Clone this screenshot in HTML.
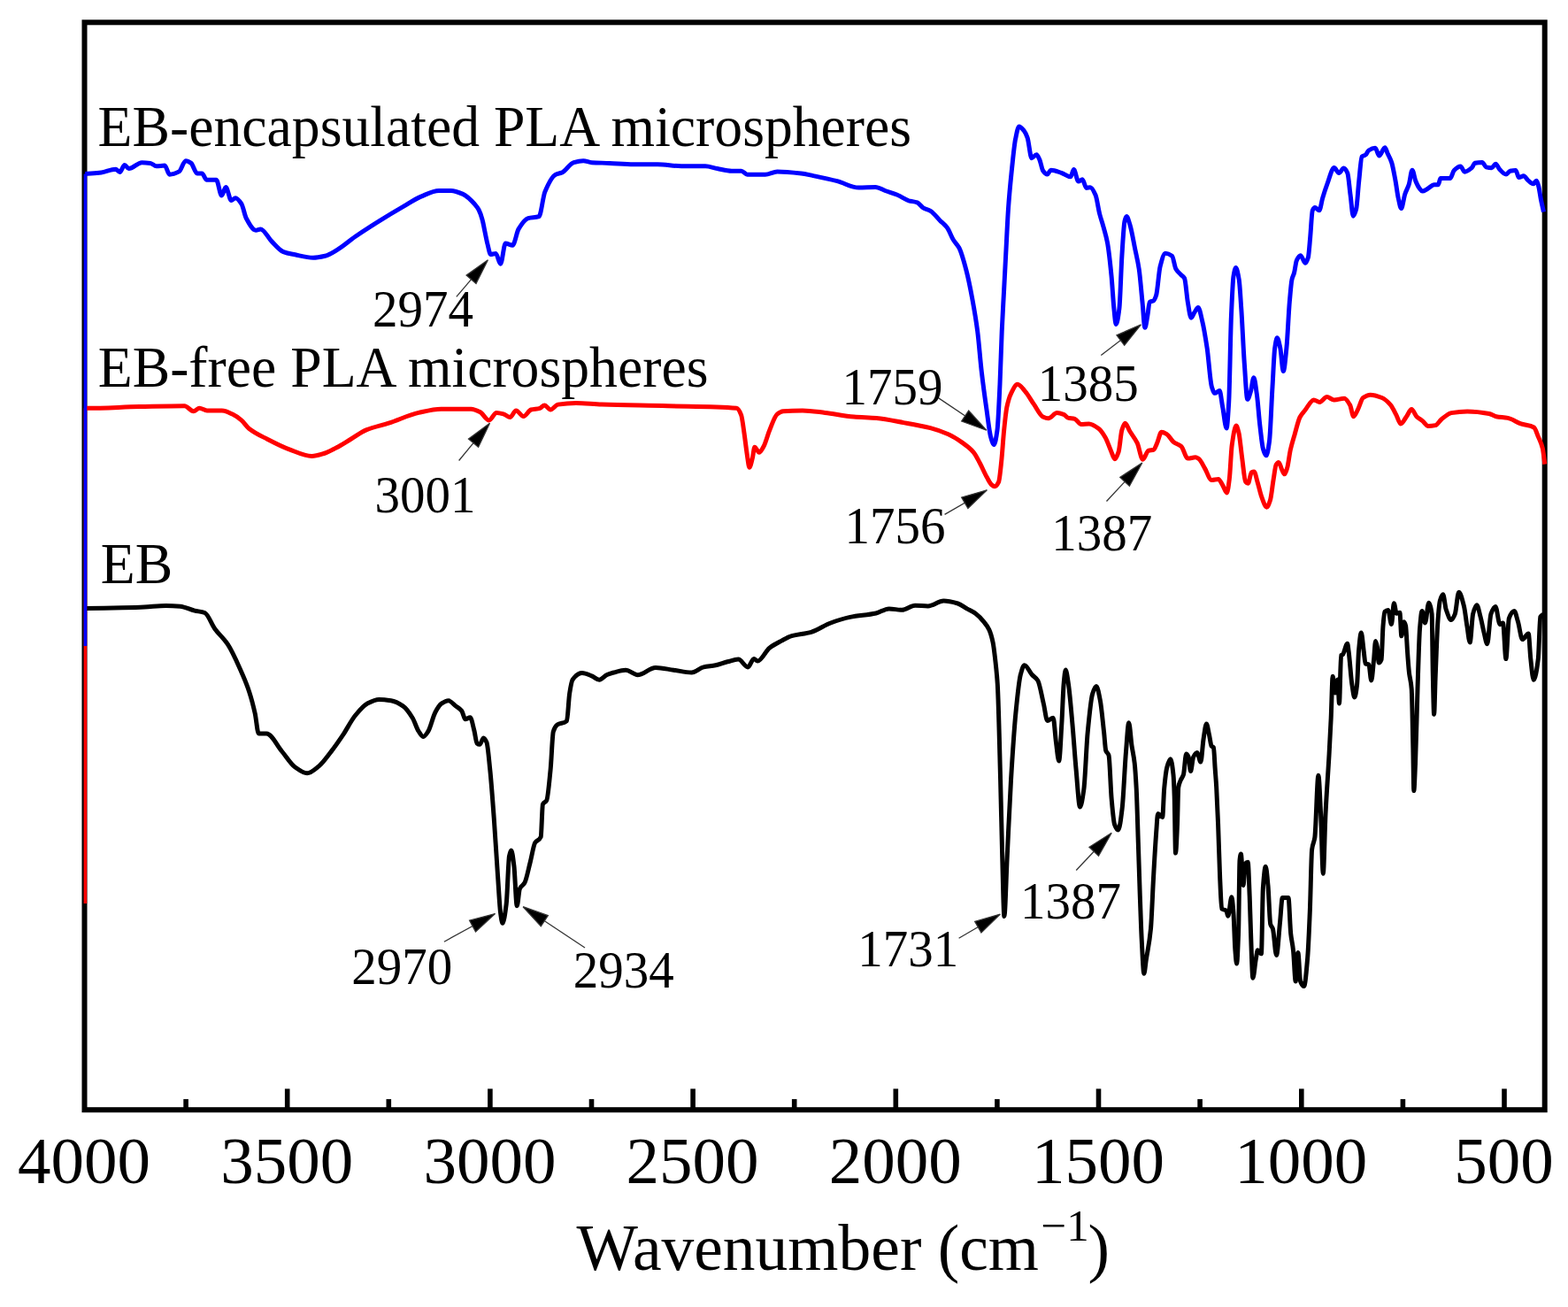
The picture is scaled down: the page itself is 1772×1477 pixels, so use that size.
<!DOCTYPE html>
<html><head><meta charset="utf-8"><title>FTIR spectra</title>
<style>html,body{margin:0;padding:0;background:#fff;}svg{display:block;}</style>
</head><body>
<svg width="1772" height="1477" viewBox="0 0 1772 1477"><rect width="1772" height="1477" fill="#fff"/><rect x="95.5" y="25.3" width="1650.2" height="1228.9" fill="none" stroke="#000" stroke-width="6"/><g stroke="#000" stroke-width="5.6"><line x1="210.1" y1="1242.1" x2="210.1" y2="1254"/><line x1="324.7" y1="1230.4" x2="324.7" y2="1254"/><line x1="439.3" y1="1242.1" x2="439.3" y2="1254"/><line x1="553.9" y1="1230.4" x2="553.9" y2="1254"/><line x1="668.5" y1="1242.1" x2="668.5" y2="1254"/><line x1="783.1" y1="1230.4" x2="783.1" y2="1254"/><line x1="897.7" y1="1242.1" x2="897.7" y2="1254"/><line x1="1012.3" y1="1230.4" x2="1012.3" y2="1254"/><line x1="1126.9" y1="1242.1" x2="1126.9" y2="1254"/><line x1="1241.5" y1="1230.4" x2="1241.5" y2="1254"/><line x1="1356.1" y1="1242.1" x2="1356.1" y2="1254"/><line x1="1470.8" y1="1230.4" x2="1470.8" y2="1254"/><line x1="1585.4" y1="1242.1" x2="1585.4" y2="1254"/><line x1="1700" y1="1230.4" x2="1700" y2="1254"/></g><path d="M96.2,687.6C110.4,687.3 124.5,687.1 138.7,686.8C146.8,686.6 155,686.4 163.1,686C171.2,685.6 179.4,684.4 187.5,684.4C192.9,684.4 198.3,684.7 203.7,685.2C209.1,685.7 214.6,688.8 220,690.1C223.8,691 227.6,691.1 231.4,692.5C235.2,693.9 238.9,705.2 242.7,710.4C247.6,717.2 252.5,720.8 257.4,728.2C262.3,735.6 267.1,746.6 272,757.5C275.2,764.8 278.5,772 281.7,781.9C283.9,788.5 286,796.4 288.2,806.2C289.6,812.4 290.9,829 292.3,829C295.3,829 298.2,829 301.2,829C307,829 312.7,842.2 318.5,849C323.5,854.9 328.5,863.5 333.5,867C338,870.2 342.6,873.8 347.1,873.8C351.6,873.8 356.1,869.2 360.6,865.6C365.1,862 369.7,855.2 374.2,849.4C378.7,843.6 383.2,837.1 387.7,830.4C392.2,823.6 396.8,814.4 401.3,808.8C405.8,803.3 410.3,797.5 414.8,795.2C419.3,792.9 423.9,790.5 428.4,790.5C432.9,790.5 437.4,791.1 441.9,791.8C446.4,792.5 450.9,794.9 455.4,797.9C459,800.4 462.7,805.6 466.3,811.5C468.6,815.2 470.8,823.1 473.1,826.4C474.9,829.1 476.7,832.5 478.5,832.5C480.3,832.5 482.1,829.2 483.9,826.4C486.6,822.2 489.3,809.6 492,804.7C494.3,800.6 496.5,796.7 498.8,795.2C501.5,793.4 504.2,791.8 506.9,791.8C509.6,791.8 512.3,795.8 515,797.9C517.3,799.7 519.5,800.5 521.8,803.3C523.2,805 524.5,812.8 525.9,812.8C527.7,812.8 529.5,810.8 531.3,810.8C532.9,810.8 534.4,819.9 536,826C537,829.9 538,839.2 539,840C540,840.8 541.1,841.3 542.1,841.3C543.6,841.3 545,834 546.5,834C547.7,834 548.8,836.2 550,839C551.3,842.1 552.5,857.6 553.8,870C555.3,884.3 556.7,904.2 558.2,924.1C559.6,943.5 561.1,968.7 562.5,989.1C563.6,1004.3 564.6,1025 565.7,1032.5C566.4,1037.6 567.2,1043.3 567.9,1043.3C569.3,1043.3 570.8,1032.9 572.2,1021.6C573.3,1012.9 574.4,972.8 575.5,967.5C576.2,964 577,961 577.7,961C578.8,961 579.8,970 580.9,978.3C582,986.8 583.1,1023.8 584.2,1023.8C585.3,1023.8 586.3,1006.6 587.4,1004.3C589.2,1000.5 591,1001 592.8,997.8C595,993.9 597.1,982.3 599.3,974C601.1,967.1 602.9,955.2 604.7,952.3C606.9,948.8 609,950.6 611.2,945.8C611.9,944.2 612.7,910.6 613.4,909C614.8,905.9 616.3,907.2 617.7,904.6C619.2,902 620.6,884.8 622.1,870C623.2,859.2 624.2,830.1 625.3,826.7C626.8,822 628.2,820.2 629.7,819.1C633.3,816.5 636.9,818.1 640.5,814.7C641.6,813.7 642.6,790 643.7,783.3C644.8,776.4 645.9,769.7 647,768.2C650.6,763.2 654.2,760.6 657.8,760.6C661.4,760.6 665,762.4 668.6,763.8C671.5,764.9 674.4,768.2 677.3,768.2C680.2,768.2 683.1,763.8 686,762.5C688.5,761.4 691,760.7 693.5,760C698,758.8 702.6,757.2 707.1,757.2C711.6,757.2 716.1,762.7 720.6,762.7C727.4,762.7 734.1,754.5 740.9,754.5C747.7,754.5 754.5,756.3 761.3,757.2C768.1,758.1 774.8,760 781.6,760C786.1,760 790.6,754.9 795.1,753.9C799.6,752.9 804.2,752.7 808.7,751.8C813.2,750.9 817.7,748.9 822.2,747.8C826.3,746.8 830.3,745.1 834.4,745.1C838,745.1 841.6,753.9 845.2,753.9C847.5,753.9 849.7,744.4 852,744.4C853.4,744.4 854.7,747.1 856.1,747.1C860.6,747.1 865.1,735.7 869.6,732.2C874.1,728.7 878.7,726.5 883.2,724.1C887,722.1 890.9,719.8 894.7,718.7C902,716.6 909.4,716.4 916.7,714.3C924,712.2 931.4,706.7 938.7,704C946,701.3 953.4,698.9 960.7,697.4C970.5,695.4 980.2,695.1 990,693C994.9,691.9 999.8,687.9 1004.7,687.9C1009.6,687.9 1014.5,689.3 1019.4,689.3C1024.3,689.3 1029.2,684.2 1034.1,684.2C1039,684.2 1043.8,684.9 1048.7,684.9C1054.6,684.9 1060.5,679.1 1066.4,679.1C1071.8,679.1 1077.1,680.5 1082.5,682C1085.9,683 1089.4,685.9 1092.8,687.9C1096.2,689.8 1099.6,691.2 1103,693.7C1105.9,695.9 1108.9,699 1111.8,702.6C1113.8,705 1115.7,707.3 1117.7,711.4C1119.2,714.5 1120.6,719 1122.1,726C1123.1,730.6 1124,739.3 1125,748C1125.8,754.9 1126.5,761 1127.3,773.3C1128.4,790.9 1129.5,841 1130.6,881.6C1131.3,907.4 1132,943.7 1132.7,968.3C1133.4,994.1 1134.2,1035.5 1134.9,1035.5C1136,1035.5 1137.1,990.6 1138.2,968.3C1139.6,939.3 1141.1,905.5 1142.5,881.6C1144.3,851.6 1146.1,824.2 1147.9,805.8C1149.7,787.4 1151.5,769.1 1153.3,762.5C1154.8,757.1 1156.2,751.7 1157.7,751.7C1160.6,751.7 1163.4,759.3 1166.3,762.5C1168.5,764.9 1170.6,765.5 1172.8,769C1175,772.5 1177.1,785.9 1179.3,795C1180.8,801.2 1182.2,814.5 1183.7,814.5C1185.9,814.5 1188,811.2 1190.2,811.2C1191.3,811.2 1192.3,830.4 1193.4,838.3C1194.5,846.4 1195.6,860 1196.7,860C1197.8,860 1198.8,834 1199.9,816.7C1200.6,804.8 1201.4,781.4 1202.1,773.3C1202.8,765.6 1203.5,757.1 1204.2,757.1C1205.3,757.1 1206.4,766.1 1207.5,773.3C1208.9,782.6 1210.4,800.8 1211.8,816.7C1213.3,833 1214.7,855 1216.2,870.8C1217.6,886.2 1219.1,912 1220.5,912C1221.9,912 1223.4,902.4 1224.8,892.5C1226.3,882.3 1227.7,842.9 1229.2,827.5C1231,808.6 1232.8,789.9 1234.6,784.2C1236,779.7 1237.5,775.5 1238.9,775.5C1240.3,775.5 1241.8,783.6 1243.2,790.7C1244.7,798 1246.1,814.1 1247.6,827.5C1248.3,833.9 1249,846 1249.7,848.1C1250.8,851.4 1251.9,850.2 1253,853.5C1254.1,856.7 1255.1,891.5 1256.2,903.3C1257.3,915.5 1258.4,928.6 1259.5,931.5C1260.9,935.3 1262.4,938 1263.8,938C1265.2,938 1266.7,925.7 1268.1,914.1C1269.6,902.3 1271,866.7 1272.5,849.2C1273.6,836.5 1274.6,816.7 1275.7,816.7C1276.8,816.7 1277.9,835.1 1279,842.7C1280.1,850.1 1281.1,853 1282.2,862.5C1282.9,868.4 1283.5,878.2 1284.2,890.9C1284.9,904.2 1285.6,931.1 1286.3,951.9C1287,971.7 1287.6,994.3 1288.3,1012.8C1289,1031.3 1289.6,1051.1 1290.3,1063.6C1291.1,1079.2 1292,1100.2 1292.8,1100.2C1293.7,1100.2 1294.5,1089.5 1295.4,1083.9C1297.1,1072.9 1298.8,1067.1 1300.5,1049.4C1301.5,1039 1302.5,1010.1 1303.5,992.5C1304.5,974.3 1305.6,955.2 1306.6,941.7C1307.3,933 1307.9,919.4 1308.6,919.4C1310.3,919.4 1312,923.4 1313.7,923.4C1314.4,923.4 1315,898.1 1315.7,890.9C1316.7,880.1 1317.7,871.3 1318.7,867.5C1320,862.4 1321.4,857.7 1322.7,857.7C1323.8,857.7 1324.9,865.2 1326,875.6C1326.4,879.4 1326.8,888.5 1327.2,900C1327.6,912.4 1328.1,964.1 1328.5,964.1C1329.2,964.1 1329.8,946.8 1330.5,931.6C1330.9,922.5 1331.3,892.6 1331.7,890C1332.5,884.7 1333.3,884.1 1334.1,882.1C1335.2,879.4 1336.3,879 1337.4,875.6C1338.5,872.3 1339.5,852.1 1340.6,852.1C1341.4,852.1 1342.3,853.5 1343.1,855.3C1343.9,857 1344.7,871.6 1345.5,871.6C1346.6,871.6 1347.6,857.4 1348.7,855.3C1350.1,852.6 1351.4,850.4 1352.8,850.4C1354.2,850.4 1355.5,861 1356.9,861C1358,861 1359,841.8 1360.1,835C1361.2,828 1362.3,817.9 1363.4,817.9C1364.5,817.9 1365.5,826.2 1366.6,830.9C1367.4,834.6 1368.3,842.1 1369.1,843.1C1369.9,844 1370.7,843.6 1371.5,844.7C1372,845.4 1372.6,860 1373.1,867.5C1373.6,875 1374.2,880.9 1374.7,890C1375.3,900.8 1376,915.8 1376.6,931.6C1377.3,949 1378,977.4 1378.7,992.5C1379.4,1006.9 1380,1026.4 1380.7,1027C1382.4,1028.6 1384.1,1027.7 1385.8,1029.1C1386.5,1029.6 1387.1,1035.2 1387.8,1035.2C1389.2,1035.2 1390.5,1013.8 1391.9,1013.8C1392.6,1013.8 1393.2,1022.9 1393.9,1031.1C1394.6,1039.3 1395.2,1065.5 1395.9,1073.8C1396.5,1080.9 1397,1089 1397.6,1089C1398.3,1089 1398.9,1072.1 1399.6,1053.4C1400.1,1040.3 1400.5,976.6 1401,972.2C1401.5,967.8 1401.9,965.1 1402.4,965.1C1403.3,965.1 1404.2,1000.6 1405.1,1000.6C1405.8,1000.6 1406.4,977.2 1407.1,976.3C1408.1,974.9 1409.2,974.2 1410.2,974.2C1410.9,974.2 1411.5,997 1412.2,1012.8C1412.9,1028.6 1413.5,1058 1414.2,1073.8C1414.7,1086.4 1415.3,1105.2 1415.8,1105.2C1417,1105.2 1418.1,1090.3 1419.3,1083.9C1420,1080.3 1420.6,1073.8 1421.3,1073.8C1422.7,1073.8 1424,1077.8 1425.4,1077.8C1426.1,1077.8 1426.7,1012 1427.4,1002.7C1428.4,989.3 1429.3,979.2 1430.3,979.2C1431.2,979.2 1432.1,991.2 1433,1000.8C1433.9,1010.4 1434.8,1041 1435.7,1044.2C1436.6,1047.4 1437.5,1046.9 1438.4,1049.6C1439.8,1053.7 1441.1,1079.4 1442.5,1079.4C1443.9,1079.4 1445.2,1054.6 1446.6,1041.4C1447.5,1032.7 1448.4,1014.4 1449.3,1014.4C1450.6,1014.4 1452,1014.4 1453.3,1014.4C1454.2,1014.4 1455.1,1014.4 1456,1014.4C1456.9,1014.4 1457.8,1046.6 1458.7,1055C1459.6,1063.7 1460.6,1065.6 1461.5,1073.9C1462.4,1081.9 1463.3,1109.1 1464.2,1109.1C1465.1,1109.1 1466,1076.6 1466.9,1076.6C1467.8,1076.6 1468.7,1106.8 1469.6,1109.1C1470.9,1112.6 1472.3,1114.6 1473.6,1114.6C1475,1114.6 1476.3,1098.1 1477.7,1082.1C1478.6,1071.6 1479.5,1049.9 1480.4,1027.9C1481.1,1010 1481.9,965.9 1482.6,960.2C1483.7,951.9 1484.7,953.8 1485.8,946.7C1487.2,937.7 1488.5,876.2 1489.9,876.2C1490.8,876.2 1491.7,902 1492.6,919.6C1493.5,937.2 1494.4,987.3 1495.3,987.3C1496.2,987.3 1497.1,937.8 1498,919.6C1499.4,892 1500.7,876.5 1502.1,851.9C1502.8,839.3 1503.5,826.4 1504.2,811.2C1504.8,797.4 1505.5,764.3 1506.1,764.3C1507.1,764.3 1508,783 1509,783C1509.9,783 1510.9,768.1 1511.8,768.1C1512.4,768.1 1512.9,795 1513.5,795C1514.2,795 1514.9,741.3 1515.6,740.6C1516.2,740 1516.9,740.1 1517.5,739.6C1519.2,738.2 1521,727.3 1522.7,727.3C1523.2,727.3 1523.6,732.4 1524.1,735.8C1525.4,745 1526.6,765.5 1527.9,773.7C1528.9,780 1529.8,788 1530.8,788C1531.7,788 1532.7,781.6 1533.6,773.7C1534.2,768.3 1534.9,742.9 1535.5,735.8C1536.4,725.4 1537.4,715 1538.3,715C1539.3,715 1540.2,728.7 1541.2,735.8C1541.8,740.4 1542.5,749.6 1543.1,750C1544.4,750.7 1545.6,750.3 1546.9,751C1547.8,751.5 1548.8,769 1549.7,769C1550.7,769 1551.6,754.4 1552.6,745.3C1553.2,739.3 1553.9,724.5 1554.5,724.5C1555.1,724.5 1555.8,727.8 1556.4,731.1C1557,734.2 1557.6,749.1 1558.2,749.1C1559.2,749.1 1560.1,747.8 1561.1,745.3C1561.7,743.6 1562.4,714.9 1563,707.4C1563.6,699.9 1564.3,692 1564.9,691.3C1566.2,690 1567.4,689.4 1568.7,689.4C1570,689.4 1571.2,705.5 1572.5,705.5C1573.4,705.5 1574.4,681.8 1575.3,681.8C1576.3,681.8 1577.2,693.2 1578.2,693.2C1579.4,693.2 1580.7,692.2 1581.9,692.2C1582.5,692.2 1583.2,718.8 1583.8,718.8C1584.8,718.8 1585.7,702.7 1586.7,702.7C1587.3,702.7 1588,704.7 1588.6,707.4C1589.2,710.1 1589.9,727.2 1590.5,735.8C1591.1,744.4 1591.8,753.8 1592.4,759.5C1593.3,767.9 1594.3,767 1595.2,778.5C1595.8,785.5 1596.3,820.1 1596.9,846.2C1597.2,860 1597.5,893.6 1597.8,893.6C1598.4,893.6 1598.9,876.1 1599.5,863.1C1600.3,843.9 1601.2,803.6 1602,778.5C1602.8,753.4 1603.7,720.9 1604.5,710.8C1605.4,700.3 1606.2,690.5 1607.1,690.5C1608.2,690.5 1609.4,704 1610.5,704C1611.9,704 1613.3,681.2 1614.7,681.2C1615.8,681.2 1617,684.7 1618.1,693.9C1618.5,697.2 1618.9,744.2 1619.3,761.6C1619.7,780.4 1620.2,807.3 1620.6,807.3C1621.2,807.3 1621.7,775.7 1622.3,761.6C1623.2,740.1 1624,713.9 1624.9,702.3C1625.7,691.2 1626.6,681.4 1627.4,678.6C1628.5,674.7 1629.7,671.8 1630.8,671.8C1631.9,671.8 1633.1,685.4 1634.2,688.8C1636.2,694.6 1638.1,700.6 1640.1,700.6C1641.5,700.6 1642.9,697.4 1644.3,693.9C1645.7,690.3 1647.2,669.3 1648.6,669.3C1650.6,669.3 1652.5,677.6 1654.5,685.4C1655.6,689.9 1656.8,700.6 1657.9,707.4C1659,714 1660.1,726 1661.2,726C1662.3,726 1663.5,698.3 1664.6,693.9C1666,688.3 1667.5,683.7 1668.9,683.7C1670.3,683.7 1671.7,692 1673.1,697.2C1674.5,702.4 1675.9,710.5 1677.3,715.9C1678.4,720.3 1679.6,727.7 1680.7,727.7C1682.1,727.7 1683.5,697.8 1684.9,693.9C1686.6,689.1 1688.3,685.4 1690,685.4C1691.7,685.4 1693.4,705.7 1695.1,705.7C1696.2,705.7 1697.4,704 1698.5,704C1699.6,704 1700.8,744.6 1701.9,744.6C1703,744.6 1704.2,702 1705.3,698.9C1707.3,693.4 1709.2,690.5 1711.2,690.5C1712.6,690.5 1714,697.7 1715.4,702.3C1717.1,707.9 1718.8,722.6 1720.5,722.6C1722.8,722.6 1725,715.9 1727.3,715.9C1728.1,715.9 1729,737.3 1729.8,744.6C1730.9,754.6 1732.1,768.3 1733.2,768.3C1734.9,768.3 1736.6,758.2 1738.3,744.6C1739.1,737.9 1740,698.8 1740.8,697.2C1741.9,695 1743.1,695 1744.2,693.9" fill="none" stroke="#000" stroke-width="5.0" stroke-linejoin="round" stroke-linecap="butt"/><path d="M96.2,461.3C97,461.3 97.7,461.3 98.5,461.3C118.2,461.3 138,460 157.7,459.6C174.6,459.3 191.6,458.8 208.5,458.8C211.9,458.8 215.3,464.7 218.7,464.7C220.9,464.7 223.2,461.3 225.4,461.3C228.2,461.3 231.1,463.9 233.9,463.9C239.5,463.9 245.2,463.9 250.8,463.9C254.8,463.9 258.7,466.2 262.7,468.1C266.1,469.7 269.4,472.1 272.8,474.9C275.6,477.3 278.5,482 281.3,484.2C288.1,489.6 294.8,492.5 301.6,496C310.1,500.4 318.5,504.8 327,507.9C335.5,511 343.9,515.5 352.4,515.5C356.9,515.5 361.5,513.9 366,512.5C370.7,511.1 375.3,508.4 380,506C385.6,503.1 391.3,499.3 396.9,496C402.6,492.6 408.2,488.2 413.9,485.9C422.4,482.4 430.8,480.9 439.3,478.2C450.6,474.6 461.8,468.9 473.1,466.4C481.6,464.5 490,462.2 498.5,462.2C509.8,462.2 521.1,462.2 532.4,462.2C535.8,462.2 539.1,463.9 542.5,465.6C545.9,467.3 549.3,474.9 552.7,474.9C555.5,474.9 558.3,466.4 561.1,466.4C563.9,466.4 566.8,467.3 569.6,468.1C571.9,468.8 574.1,471.5 576.4,471.5C578.7,471.5 580.9,463.9 583.2,463.9C586,463.9 588.8,470.6 591.6,470.6C594.4,470.6 597.3,463.8 600.1,463C603.5,462 606.8,462.3 610.2,461.3C611.9,460.8 613.6,457.9 615.3,457.9C617.6,457.9 619.8,463 622.1,463C624.9,463 627.8,457.6 630.6,457.1C637.4,456 644.1,455.4 650.9,455.4C660.6,455.4 670.3,456.8 680,457.1C704.9,458 729.7,458.1 754.6,458.8C780.6,459.5 806.5,459 832.5,461.3C834.2,461.4 835.9,464.7 837.6,468.9C838.7,471.7 839.9,481.8 841,489.3C842.1,496.8 843.3,507.5 844.4,514.6C845.2,519.8 846.1,528.2 846.9,528.2C848,528.2 849.2,522.3 850.3,518C851.1,514.8 852,505.3 852.8,505.3C854.5,505.3 856.2,511.3 857.9,511.3C859.6,511.3 861.3,507.5 863,504.5C865.3,500.5 867.5,491.3 869.8,485.9C872.6,479.2 875.4,470.3 878.2,468.1C880.5,466.3 882.7,464.9 885,464.7C892.3,464.1 899.7,463.9 907,463.9C915.5,463.9 923.9,465.4 932.4,466.4C943.3,467.7 954.1,470.1 965,471C973.5,471.7 982,471.8 990.5,472.5C1000.7,473.4 1010.8,475.7 1021,477.6C1031.1,479.4 1041.3,481.1 1051.4,483.7C1058.2,485.5 1064.9,487.8 1071.7,490.8C1076.8,493.1 1081.9,496.3 1087,499.9C1091.4,503 1095.8,505.9 1100.2,511.1C1102.6,513.9 1104.9,518.9 1107.3,523.3C1110,528.3 1112.7,534.8 1115.4,539.6C1117.1,542.6 1118.8,546.3 1120.5,547.7C1121.7,548.7 1122.9,549.7 1124.1,549.7C1125.6,549.7 1127.1,547.7 1128.6,544.6C1129.6,542.5 1130.7,530.8 1131.7,521.3C1132.7,512.1 1133.7,495.4 1134.7,485.7C1135.7,475.7 1136.8,465.3 1137.8,460.3C1139.4,452.7 1140.9,448 1142.5,444.8C1145,439.8 1147.4,434.3 1149.9,434.3C1152.8,434.3 1155.7,439 1158.6,442.3C1161.9,446.1 1165.3,452.4 1168.6,457.2C1171.9,461.9 1175.2,469.3 1178.5,470.9C1180.6,471.9 1182.6,472.8 1184.7,472.8C1188,472.8 1191.3,466.6 1194.6,466.6C1197.1,466.6 1199.6,467.5 1202.1,468.4C1203.7,469 1205.4,471.6 1207,472.1C1209.5,472.8 1212,472.7 1214.5,473.4C1217,474.1 1219.4,479.6 1221.9,479.6C1224.8,479.6 1227.7,479 1230.6,479C1234.3,479 1238.1,481.8 1241.8,484.6C1244.3,486.5 1246.7,490.3 1249.2,494.5C1251.3,498.1 1253.4,504.7 1255.5,509.4C1256.9,512.6 1258.4,518.7 1259.8,518.7C1261.2,518.7 1262.7,514.8 1264.1,510.6C1265.4,506.9 1266.6,489.7 1267.9,485.8C1269.1,482 1270.4,478.3 1271.6,478.3C1273.3,478.3 1274.9,484.2 1276.6,487C1279.5,491.8 1282.3,494.7 1285.2,500.7C1287.3,505.1 1289.4,519.3 1291.5,519.3C1293.6,519.3 1295.6,510.2 1297.7,509.4C1299.8,508.6 1301.8,508.9 1303.9,508.1C1305.1,507.6 1306.4,503.4 1307.6,500.7C1309.3,497 1310.9,488.3 1312.6,488.3C1314.7,488.3 1316.7,489.6 1318.8,490.8C1321.3,492.3 1323.7,497.6 1326.2,499.5C1329.1,501.7 1332,501.9 1334.9,504.4C1337.4,506.6 1339.9,518.1 1342.4,518.1C1345.3,518.1 1348.1,516.8 1351,516.8C1352.3,516.8 1353.5,517.7 1354.8,518.5C1357,520 1359.3,525.4 1361.5,529.1C1364.1,533.3 1366.6,542.5 1369.2,542.5C1371.8,542.5 1374.3,541.5 1376.9,541.5C1378.5,541.5 1380.1,545.8 1381.7,548.3C1383.3,550.8 1384.9,556.9 1386.5,556.9C1387.4,556.9 1388.4,548.7 1389.3,541.5C1390.3,534 1391.2,510.1 1392.2,503.2C1393.8,491.8 1395.4,481.1 1397,481.1C1398,481.1 1398.9,485.1 1399.9,488.8C1401.2,493.7 1402.4,508.5 1403.7,517.6C1405,527 1406.3,542.9 1407.6,544.4C1408.5,545.5 1409.5,546.3 1410.4,546.3C1411.7,546.3 1413,534.7 1414.3,533.9C1415.3,533.3 1416.2,532.9 1417.2,532.9C1418.5,532.9 1419.7,540.2 1421,544.4C1422.6,549.6 1424.2,557.5 1425.8,561.7C1427.7,566.7 1429.6,573.2 1431.5,573.2C1432.8,573.2 1434.1,569.4 1435.4,565.5C1436.7,561.7 1437.9,549 1439.2,541.5C1440.2,535.8 1441.1,526.8 1442.1,525.2C1443.1,523.6 1444,522.4 1445,522.4C1446.3,522.4 1447.5,528.6 1448.8,531C1449.8,532.8 1450.7,535.8 1451.7,535.8C1452.7,535.8 1453.6,532.2 1454.6,529.1C1455.9,525 1457.1,513.6 1458.4,508C1460,500.9 1461.6,496.2 1463.2,490.7C1465.1,484 1467.1,475.2 1469,471.5C1470.9,467.9 1472.8,466.2 1474.7,463.8C1478,459.6 1481.4,451.9 1484.7,451.9C1486.9,451.9 1489.1,454.4 1491.3,454.4C1494,454.4 1496.8,448.6 1499.5,448.6C1502.2,448.6 1504.9,451.9 1507.6,451.9C1511.4,451.9 1515.3,450.3 1519.1,450.3C1521.3,450.3 1523.4,453.9 1525.6,457.6C1527,460 1528.3,470.7 1529.7,470.7C1531.3,470.7 1533,465.7 1534.6,462.6C1536.5,458.9 1538.5,450.9 1540.4,449.5C1543.1,447.6 1545.9,446.2 1548.6,446.2C1553,446.2 1557.3,447.8 1561.7,449.5C1565,450.8 1568.2,453.8 1571.5,457.6C1573.7,460.1 1575.8,465 1578,469.1C1579.6,472.2 1581.3,478.9 1582.9,478.9C1585.1,478.9 1587.3,473.6 1589.5,470.7C1591.4,468.2 1593.3,462.6 1595.2,462.6C1597.1,462.6 1599,468.8 1600.9,470.7C1603.1,472.9 1605.3,473.8 1607.5,475.6C1609.7,477.4 1611.8,481.4 1614,481.4C1616.7,481.4 1619.5,481.1 1622.2,480.6C1624.4,480.2 1626.6,475.8 1628.8,474C1632.6,471 1636.4,467.2 1640.2,466.6C1646.2,465.6 1652.2,465 1658.2,465C1666.4,465 1674.6,466 1682.8,467.5C1685.5,468 1688.2,470.2 1690.9,470.7C1695.3,471.6 1699.6,471.5 1704,472.4C1708.9,473.4 1713.9,477.2 1718.8,478.9C1723.7,480.6 1728.6,480.2 1733.5,483C1735.1,483.9 1736.8,489.7 1738.4,493.6C1740,497.5 1741.7,500 1743.3,506.7C1744.1,510.1 1745,518.7 1745.8,524.7" fill="none" stroke="#f00" stroke-width="5.0" stroke-linejoin="round" stroke-linecap="butt"/><line x1="96.4" y1="1021" x2="96.4" y2="461.3" stroke="#f00" stroke-width="3.6"/><line x1="96.4" y1="730" x2="96.4" y2="196.6" stroke="#00f" stroke-width="3.6"/><path d="M96.2,196.6C102.3,196 108.3,195.7 114.4,194.9C119.8,194.2 125.2,191.2 130.6,191.2C132.2,191.2 133.8,194.5 135.4,194.5C137.2,194.5 139,186.4 140.8,186.4C142.4,186.4 143.9,190.5 145.5,190.5C150.5,190.5 155.4,183.7 160.4,183.7C163.6,183.7 166.7,184 169.9,184.4C172.2,184.7 174.4,187.8 176.7,187.8C179.9,187.8 183,187.1 186.2,187.1C188,187.1 189.8,197.2 191.6,197.2C195.2,197.2 198.8,195.8 202.4,193.9C204.9,192.6 207.4,181.7 209.9,181.7C211.9,181.7 214,183 216,184.4C218.2,186 220.5,195.9 222.7,195.9C224.5,195.9 226.4,195.9 228.2,195.9C230,195.9 231.8,203.3 233.6,203.3C237.2,203.3 240.8,203.3 244.4,203.3C246.4,203.3 248.5,221 250.5,221C252.1,221 253.6,211.5 255.2,211.5C257.2,211.5 259.3,226.4 261.3,226.4C262.9,226.4 264.5,223.7 266.1,223.7C268.4,223.7 270.6,227 272.9,230.4C274.7,233.1 276.5,243.4 278.3,246.7C281.9,253.4 285.5,260.2 289.1,260.2C290.9,260.2 292.7,258.9 294.5,258.9C298.6,258.9 302.6,268.4 306.7,272.4C311.2,276.9 315.8,282.9 320.3,284.6C324.7,286.3 329.1,286.9 333.5,287.8C340.3,289.2 347.1,291.2 353.9,291.2C358.4,291.2 362.9,290.2 367.4,289.2C371.9,288.2 376.5,285.1 381,282.4C387.8,278.4 394.5,272.2 401.3,267.5C410.3,261.3 419.4,255.5 428.4,249.9C437.4,244.3 446.4,238.9 455.4,233.7C462.2,229.7 469,224.9 475.8,222.1C482.6,219.3 489.3,215.4 496.1,215.4C500.6,215.4 505.1,215.4 509.6,215.4C514.1,215.4 518.7,217.4 523.2,219.4C527.7,221.4 532.2,226 536.7,231C538.1,232.6 539.6,234.3 541,237C542.3,239.5 543.7,243.3 545,248C546,251.5 547,257.3 548,262C549,266.7 550,272.1 551,276C552.2,280.5 553.3,287.5 554.5,287.5C556.4,287.5 558.4,286.6 560.3,286.6C562.1,286.6 563.9,298.2 565.7,298.2C567.5,298.2 569.4,275.1 571.2,275.1C573.9,275.1 576.6,277.2 579.3,277.2C581.5,277.2 583.8,262.6 586,258.9C589.6,252.9 593.3,247.8 596.9,246.7C601,245.5 605,246.1 609.1,244.7C611.3,243.9 613.6,222.3 615.8,216.9C619.9,207 623.9,199.1 628,197.2C630.3,196.1 632.5,196.1 634.8,195.2C639.3,193.3 643.9,185 648.4,183.7C652,182.6 655.6,181.7 659.2,181.7C662.4,181.7 665.5,183.5 668.7,183.7C675.5,184.1 682.2,184.1 689,184.4C698,184.8 707.1,185.7 716.1,185.7C725.1,185.7 734.2,185.7 743.2,185.7C752.1,185.7 761.1,187.8 770,187.8C779,187.8 788.1,187.8 797.1,187.8C801.6,187.8 806.1,189.7 810.6,190.5C816,191.5 821.5,193.2 826.9,193.2C830.5,193.2 834.1,193.2 837.7,193.2C840,193.2 842.2,197.2 844.5,197.2C851.3,197.2 858,197.2 864.8,197.2C869.3,197.2 873.9,193.9 878.4,193.9C887.4,193.9 896.4,194.9 905.4,195.9C909.9,196.4 914.5,197.7 919,198.6C928,200.5 937.1,202.4 946.1,204.7C954.2,206.8 962.4,212.1 970.5,212.1C976.8,212.1 983.1,211.5 989.4,211.5C993,211.5 996.7,214.2 1000.3,215.5C1004.7,217.1 1009.1,218.2 1013.5,220C1018,221.8 1022.6,225.4 1027.1,226.8C1030.3,227.7 1033.4,227.7 1036.6,228.9C1038.8,229.7 1041.1,233.6 1043.3,234.9C1046,236.5 1048.8,236.7 1051.5,238.3C1055.1,240.4 1058.7,245.6 1062.3,249.2C1065,251.9 1067.7,253.7 1070.4,257.3C1072.7,260.3 1074.9,267.1 1077.2,270.8C1079.5,274.5 1081.7,276 1084,280.3C1086.7,285.5 1089.4,295.7 1092.1,306C1094.3,314.4 1096.5,325.4 1098.7,337.2C1100.7,348 1102.7,359 1104.7,374.5C1106.2,386.1 1107.7,406.2 1109.2,419.2C1111.2,436.2 1113.1,450 1115.1,463.8C1116.6,474.4 1118.1,488.3 1119.6,493.6C1120.8,497.9 1122.1,502.6 1123.3,502.6C1124.5,502.6 1125.8,495.1 1127,486.2C1128,479 1129,455.4 1130,434C1130.7,418.3 1131.5,391.1 1132.2,374.5C1133,357.1 1133.7,344.6 1134.5,329.8C1135.3,315 1136,300.2 1136.8,285.7C1137.7,268.7 1138.6,248.4 1139.5,235.6C1140.8,216.7 1142.2,203.6 1143.5,190.9C1144.9,177.9 1146.2,163.8 1147.6,157.1C1149,150.4 1150.3,142.9 1151.7,142.9C1153.5,142.9 1155.3,145.4 1157.1,147.6C1158.4,149.3 1159.8,152 1161.1,155.7C1162.7,160.2 1164.3,178.7 1165.9,178.7C1167.7,178.7 1169.5,174.7 1171.3,174.7C1172.4,174.7 1173.6,177.7 1174.7,180.1C1176,182.9 1177.4,191.2 1178.7,193C1180.3,195.2 1181.9,197 1183.5,197C1184.8,197 1186.2,192.3 1187.5,192.3C1191.5,192.3 1195.4,194 1199.4,195.3C1202.9,196.4 1206.3,199.8 1209.8,199.8C1211,199.8 1212.3,191.6 1213.5,191.6C1215.2,191.6 1217,205 1218.7,205C1220.2,205 1221.7,202.8 1223.2,202.8C1224.7,202.8 1226.2,212.4 1227.7,212.4C1229.2,212.4 1230.6,211.7 1232.1,211.7C1234.1,211.7 1236.1,216 1238.1,220.6C1239.6,224.1 1241.1,235.6 1242.6,241.5C1244.1,247.2 1245.5,251 1247,256.4C1248.5,261.9 1250,266.2 1251.5,274.3C1253,282.4 1254.5,296.2 1256,311.5C1257,321.4 1257.9,339.4 1258.9,348.7C1259.7,356.1 1260.4,366.6 1261.2,366.6C1262.4,366.6 1263.7,358.5 1264.9,348.7C1265.9,340.8 1266.9,304.9 1267.9,289.2C1268.9,273.5 1269.9,254.7 1270.9,250.4C1271.6,247.2 1272.4,244.5 1273.1,244.5C1274.3,244.5 1275.6,249.6 1276.8,253.4C1278.8,259.6 1280.8,271.9 1282.8,281.7C1284.3,288.9 1285.7,294.1 1287.2,304C1288.5,312.5 1289.7,328.7 1291,341.3C1292,350.9 1292.9,370.3 1293.9,370.3C1294.9,370.3 1295.9,361.7 1296.9,356.2C1297.7,352 1298.4,341.8 1299.2,341.3C1300.7,340.3 1302.1,340.7 1303.6,339.8C1304.6,339.2 1305.6,336.8 1306.6,333.8C1308.1,329.3 1309.6,306.8 1311.1,301.1C1313.1,293.6 1315,286.2 1317,286.2C1319.5,286.2 1322,287.3 1324.5,289.2C1326,290.3 1327.4,301.5 1328.9,304C1330.9,307.4 1332.9,308.6 1334.9,310.7C1336.1,312 1337.4,312.3 1338.6,314.5C1339.8,316.7 1341.1,334.3 1342.3,341.3C1343.6,348.5 1344.8,359.2 1346.1,359.2C1347.3,359.2 1348.6,355 1349.8,353.2C1351.2,351.1 1352.6,347.5 1354,347.5C1355.6,347.5 1357.2,356.7 1358.8,363.3C1360.6,370.6 1362.3,381.3 1364.1,393.2C1365.9,405.1 1367.6,431.7 1369.4,437.2C1370.6,440.9 1371.7,444.3 1372.9,444.3C1374.7,444.3 1376.4,441.6 1378.2,441.6C1379.4,441.6 1380.5,453.9 1381.7,460.1C1383.2,467.9 1384.6,483.9 1386.1,483.9C1387,483.9 1387.8,469.5 1388.7,454.8C1389.6,439.5 1390.5,379.2 1391.4,358C1392.3,337.6 1393.1,317.5 1394,312.2C1394.9,306.9 1395.7,302.6 1396.6,302.6C1397.8,302.6 1399,308.7 1400.2,315.8C1401.1,320.9 1401.9,336.4 1402.8,349.2C1404,366.4 1405.1,394.5 1406.3,410.8C1407.5,427.1 1408.6,451.3 1409.8,451.3C1411,451.3 1412.2,446.3 1413.4,442.5C1414.6,438.8 1415.7,426.7 1416.9,426.7C1418.1,426.7 1419.2,437.7 1420.4,446C1421.6,454.3 1422.7,471.3 1423.9,481.2C1425.1,491.4 1426.3,503.8 1427.5,507.6C1428.7,511.3 1429.8,514.7 1431,514.7C1432.2,514.7 1433.3,507.2 1434.5,498.8C1435.7,490.4 1436.8,456.9 1438,437.2C1438.9,422 1439.8,399.4 1440.7,393.2C1441.6,387.2 1442.4,381.8 1443.3,381.8C1444.5,381.8 1445.6,387.9 1446.8,393.2C1448,398.5 1449.1,419.6 1450.3,419.6C1451.5,419.6 1452.7,405.1 1453.9,393.2C1455.1,381.7 1456.2,353.8 1457.4,340.4C1458.3,330.4 1459.1,319.7 1460,315.8C1460.8,312.1 1461.7,311.5 1462.5,308.5C1463.5,305 1464.4,296.1 1465.4,294.1C1466.8,291.1 1468.3,288.7 1469.7,288.7C1471.5,288.7 1473.4,297.3 1475.2,297.3C1476.3,297.3 1477.3,294.5 1478.4,290.8C1479.1,288.2 1479.9,277 1480.6,269.2C1481.5,259.6 1482.4,239.6 1483.3,237.7C1484.2,235.8 1485.1,234.5 1486,234.5C1487.6,234.5 1489.3,237.7 1490.9,237.7C1492.2,237.7 1493.4,227.9 1494.7,223.7C1496.5,217.7 1498.3,212.2 1500.1,207.4C1502.6,200.6 1505.2,189.5 1507.7,189.5C1509.5,189.5 1511.3,195.5 1513.1,195.5C1514.9,195.5 1516.7,190.1 1518.5,190.1C1519.9,190.1 1521.4,192.3 1522.8,195.5C1523.9,197.9 1525,212.2 1526.1,220.4C1527.2,228.4 1528.2,244.2 1529.3,244.2C1530.4,244.2 1531.5,240.8 1532.6,236.7C1533.7,232.7 1534.7,213.9 1535.8,204.2C1536.9,194.2 1538,178.2 1539.1,177.1C1540.5,175.7 1542,176 1543.4,174.9C1544.5,174 1545.6,170.7 1546.7,170C1549.2,168.4 1551.7,167.3 1554.2,167.3C1555.7,167.3 1557.1,176 1558.6,176C1560.8,176 1562.9,166.8 1565.1,166.8C1566.2,166.8 1567.2,171.4 1568.3,173.8C1569.8,177 1571.2,179.1 1572.7,183.6C1574.1,188 1575.6,196.5 1577,204.2C1578.1,210 1579.1,218.9 1580.2,223.7C1581.3,228.7 1582.4,235.6 1583.5,235.6C1584.9,235.6 1586.4,223.6 1587.8,219.3C1589.3,214.9 1590.7,213.1 1592.2,208.5C1593.5,204.5 1594.7,192.2 1596,192.2C1597.2,192.2 1598.5,201.2 1599.7,204.2C1601.2,207.8 1602.6,210.9 1604.1,212.8C1605.2,214.2 1606.2,216.1 1607.3,216.1C1609.4,216.1 1611.4,214.3 1613.5,213.2C1615.9,211.9 1618.4,208.7 1620.8,208.7C1622.3,208.7 1623.8,208.7 1625.3,208.7C1626.2,208.7 1627.1,201.5 1628,201.5C1631.6,201.5 1635.2,201.5 1638.8,201.5C1640.3,201.5 1641.8,193.9 1643.3,192.4C1645.7,190 1648.2,187.9 1650.6,187.9C1652.1,187.9 1653.6,194.2 1655.1,194.2C1657.8,194.2 1660.5,192 1663.2,189.7C1664.4,188.7 1665.6,184.6 1666.8,184.3C1669.5,183.7 1672.3,183.4 1675,183.4C1676.5,183.4 1678,188.4 1679.5,188.8C1681.6,189.4 1683.7,189.7 1685.8,189.7C1687.3,189.7 1688.8,185.2 1690.3,185.2C1691.8,185.2 1693.3,190 1694.8,191.5C1697.2,193.9 1699.6,197 1702,197C1703.5,197 1705,193.7 1706.5,193.3C1708.6,192.8 1710.8,192.4 1712.9,192.4C1714.1,192.4 1715.3,200.6 1716.5,200.6C1718.3,200.6 1720.1,198.8 1721.9,198.8C1723.4,198.8 1724.9,202 1726.4,203.3C1728.5,205.1 1730.6,207.8 1732.7,207.8C1733.9,207.8 1735.1,204.2 1736.3,204.2C1737.1,204.2 1737.8,207.4 1738.6,210C1739.6,213.3 1740.5,221.2 1741.5,226C1742.5,231 1743.5,235 1744.5,239.5" fill="none" stroke="#00f" stroke-width="5.0" stroke-linejoin="round" stroke-linecap="butt"/><g stroke="#333" stroke-width="1.3" fill="#000"><line x1="515.8" y1="335.4" x2="540.1" y2="306.9"/><polygon points="551.4,293.7 538,320.4 527.1,311.1"/><line x1="518.6" y1="520.5" x2="542.4" y2="491.6"/><polygon points="553.5,478.2 540.6,505.2 529.5,496"/><line x1="1057.8" y1="447.9" x2="1100.4" y2="476.5"/><polygon points="1114.8,486.2 1086.7,476 1094.7,464"/><line x1="1244.3" y1="401.4" x2="1275.6" y2="377.5"/><polygon points="1289.4,366.9 1270.7,390.2 1262,378.8"/><line x1="1067.6" y1="581.4" x2="1100.3" y2="562.5"/><polygon points="1115.4,553.8 1093.9,574.5 1086.7,562.1"/><line x1="1250.5" y1="566.5" x2="1279" y2="535.8"/><polygon points="1290.8,523 1276.4,549.2 1265.8,539.4"/><line x1="501.9" y1="1064.2" x2="544.2" y2="1041"/><polygon points="559.5,1032.6 537.5,1052.9 530.6,1040.2"/><line x1="661" y1="1071" x2="605.6" y2="1034.3"/><polygon points="591.1,1024.7 619.3,1034.7 611.3,1046.7"/><line x1="1083.6" y1="1060.2" x2="1115.3" y2="1041.8"/><polygon points="1130.4,1033.1 1108.9,1053.9 1101.7,1041.4"/><line x1="1216.2" y1="983.5" x2="1244.2" y2="953.8"/><polygon points="1256.2,941.2 1241.5,967.2 1231,957.3"/></g><g font-family="'Liberation Serif', 'Times New Roman', serif" fill="#000"><text x="20" y="1337" font-size="75">4000</text><text x="249.2" y="1337" font-size="75">3500</text><text x="478.4" y="1337" font-size="75">3000</text><text x="707.6" y="1337" font-size="75">2500</text><text x="936.8" y="1337" font-size="75">2000</text><text x="1166" y="1337" font-size="75">1500</text><text x="1395.2" y="1337" font-size="75">1000</text><text x="1643.2" y="1337" font-size="75">500</text><text x="651.4" y="1434.7" font-size="73.5">Wavenumber (cm</text><text x="1176.5" y="1402" font-size="51">−1</text><text x="1229.6" y="1434.7" font-size="73.5">)</text><text transform="translate(110.6,165.3) scale(1,1.015)" font-size="63.7">EB-encapsulated PLA microspheres</text><text transform="translate(110.8,437) scale(1,1.015)" font-size="63.7">EB-free PLA microspheres</text><text transform="translate(113.8,658.7) scale(1,1.015)" font-size="63.7">EB</text><text transform="translate(420.9,368.9) scale(1,1.035)" font-size="57">2974</text><text transform="translate(423.4,578.6) scale(1,1.035)" font-size="57">3001</text><text transform="translate(951.6,456.9) scale(1,1.035)" font-size="57">1759</text><text transform="translate(1172.7,452.8) scale(1,1.035)" font-size="57">1385</text><text transform="translate(954.6,613.6) scale(1,1.035)" font-size="57">1756</text><text transform="translate(1188.2,622.2) scale(1,1.035)" font-size="57">1387</text><text transform="translate(397.2,1111.6) scale(1,1.035)" font-size="57">2970</text><text transform="translate(647.8,1116.1) scale(1,1.035)" font-size="57">2934</text><text transform="translate(969.2,1092.4) scale(1,1.035)" font-size="57">1731</text><text transform="translate(1153.1,1037.6) scale(1,1.035)" font-size="57">1387</text></g></svg>
</body></html>
